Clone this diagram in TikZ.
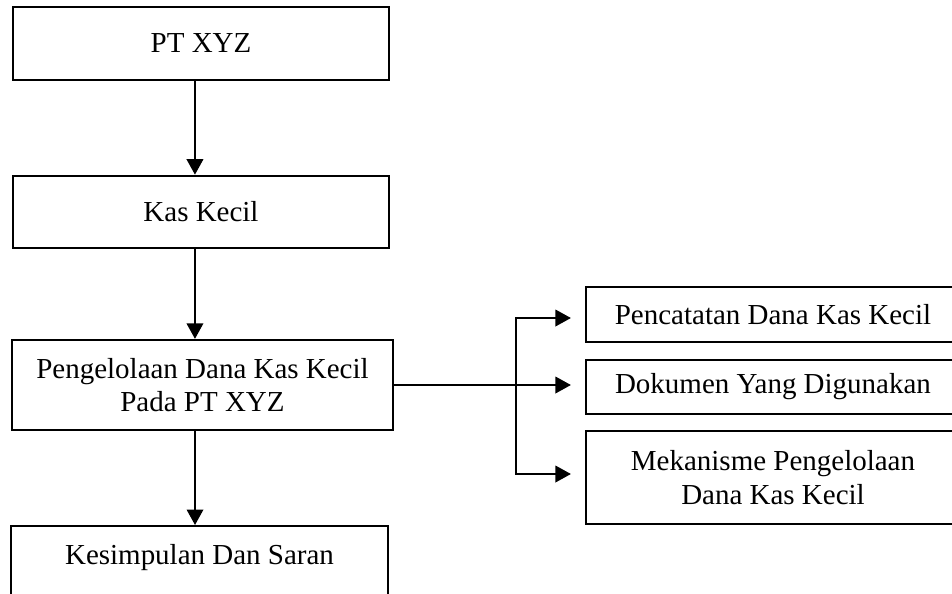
\documentclass[tikz,border=0pt]{standalone}
\usepackage{fontspec}
\setmainfont{Liberation Serif}
\usetikzlibrary{arrows.meta}

\begin{document}
\begin{tikzpicture}[
        x=0.414pt,
        y=-0.414pt,
        every node/.style={font=\fontsize{12}{13.8}\selectfont},
        stage/.style={
            draw,
            line width=0.9pt,
            minimum width=156pt,
            minimum height=30pt,
            inner sep=0pt,
            align=center
        },
        topic/.style={
            draw,
            line width=0.9pt,
            minimum width=154.8pt,
            minimum height=22.6pt,
            inner sep=0pt,
            align=center
        },
        arrow/.style={-{Triangle[length=6.4pt,width=6.8pt]}, line width=0.9pt},
        twoarrow/.style={{Triangle[length=6.4pt,width=6.8pt]}-{Triangle[length=6.4pt,width=6.8pt]}, line width=0.9pt}
    ]

    \useasboundingbox (0,0) rectangle (952,593);
    \clip (0,0) rectangle (952,593);

    % =========================
    % Main flow
    % =========================
    \node[stage] (ptxyz) at (201,43.5) {PT XYZ};
    \node[stage] (kas) at (201,212) {Kas Kecil};
    \node[stage, minimum width=157.7pt, minimum height=37.3pt] (kelola) at (202.5,385) {Pengelolaan Dana Kas Kecil\\Pada PT XYZ};
    \node[stage, anchor=north, minimum height=0pt, text height=15.7pt, text depth=30pt] (simpul) at (199.5,525) {Kesimpulan Dan Saran};

    \draw[arrow] ([xshift=-2.5pt]ptxyz.south) -- ([xshift=-2.5pt]kas.north);
    \draw[arrow] ([xshift=-2.5pt]kas.south) -- ([xshift=-2.5pt]kas.south |- kelola.north);
    \draw[arrow] ([xshift=-3.1pt]kelola.south) -- ([xshift=-3.1pt]kelola.south |- simpul.north);

    % =========================
    % Detail topics
    % =========================
    \node[topic] (catat) at (773,314.5) {Pencatatan Dana Kas Kecil};
    \node[topic] (dok) at (773,387) {Dokumen Yang Digunakan};
    \node[topic, minimum height=38.5pt] (meka) at (773,477.5) {Mekanisme Pengelolaan\\Dana Kas Kecil};

    % Bracket points
    \coordinate (brtop) at (516,318);
    \coordinate (brbot) at (516,474);

    \draw[arrow, shorten >=5.8pt] (kelola.east) -- (kelola.east -| dok.west);
    \draw[twoarrow, shorten >=5.8pt, shorten <=5.8pt] (brtop -| catat.west) -- (brtop) -- (brbot) -- (brbot -| meka.west);

\end{tikzpicture}
\end{document}
